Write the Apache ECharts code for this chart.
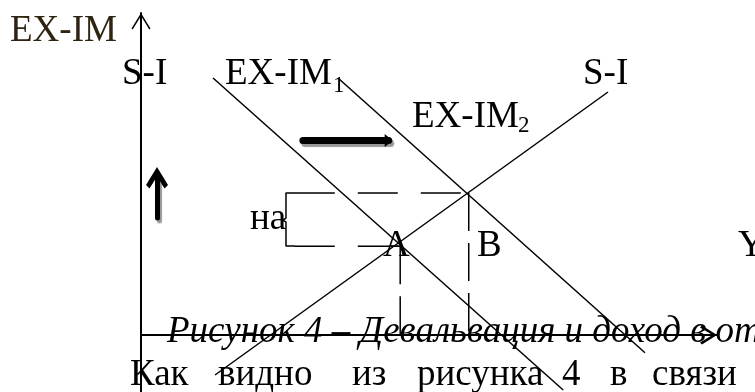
<!DOCTYPE html>
<html>
<head>
<meta charset="utf-8">
<script src="https://cdn.jsdelivr.net/npm/echarts@6.0.0/dist/echarts.min.js"></script>
<style>
  html, body { margin: 0; padding: 0; background: #ffffff; }
  #chart { width: 755px; height: 392px; }
</style>
</head>
<body>
<div id="chart"></div>
<script>
// ---- data (abstract diagram units: x 0..100 along Y-income axis, y 0..100 along EX-IM axis)
const lineSI    = [[12.85, -12.42], [81.08, 75.47]];
const lineEXIM1 = [[12.5, 79.81], [73.3, -17.08]];
const lineEXIM2 = [[34.2, 79.8], [87.5, -5.5]];
const dashUpperH = [[26.7, 44.1], [56.9, 44.1]];
const dashLowerH = [[26.7, 27.6], [45.0, 27.6]];
const dashA_V    = [[45.0, 27.6], [45.0, 0]];
const dashB_V    = [[56.9, 44.1], [56.9, 0]];
const bracket    = [[26.74, 44.1], [25.17, 44.1], [25.17, 36.33], [24.65, 35.71], [25.17, 35.09], [25.17, 27.64], [26.74, 27.64]];
const arrowRight = [[28.1, 60.4], [43.0, 60.4]];
const arrowUp    = [[2.78, 36.3], [2.78, 48.84]];

const labelTexts = ['EX-IM', 'S-I', 'EX-IM', '1', 'EX-IM', '2', 'S-I', 'на', 'A', 'B', 'Y'];
const captionText = 'Рисунок 4 – Девальвация и доход в открытой экономике';
const paragraphWords = ['Как', 'видно', 'из', 'рисунка', '4', 'в', 'связи'];

// ---- layout (pixels)
const FONT = "'Liberation Serif', 'Times New Roman', serif";
const labelPos = [
  {x: 10,  b: 42,  fs: 37, fill: '#2e2411'},
  {x: 122, b: 85,  fs: 37},
  {x: 225, b: 85,  fs: 37},
  {x: 333, b: 93,  fs: 23},
  {x: 412, b: 128, fs: 37},
  {x: 518, b: 133, fs: 23},
  {x: 583, b: 85,  fs: 37},
  {x: 250, b: 230, fs: 37},
  {x: 383, b: 257, fs: 37},
  {x: 477, b: 257, fs: 37},
  {x: 738, b: 257, fs: 37}
];
const wordX = [130, 218, 352, 417, 562, 610, 652];

function txt(text, x, baseline, fs, opts) {
  opts = opts || {};
  return {
    type: 'text', silent: true, z: 50,
    style: {
      text: text, x: x, y: baseline - 0.30 * fs,
      font: (opts.italic ? 'italic ' : '') + fs + 'px ' + FONT,
      fill: opts.fill || '#000000',
      verticalAlign: 'middle', align: 'left'
    }
  };
}

const graphics = [];
labelTexts.forEach((t, i) => {
  const p = labelPos[i];
  graphics.push(txt(t, p.x, p.b, p.fs, {fill: p.fill}));
});
graphics.push(txt(captionText, 167, 343, 37, {italic: true}));
paragraphWords.forEach((w, i) => graphics.push(txt(w, wordX[i], 386, 37)));

function seg(data, width, dash) {
  return {
    type: 'line', data: data, symbol: 'none', silent: true, animation: false,
    lineStyle: {color: '#000', width: width, type: dash || 'solid'},
    z: 5
  };
}

const axisArrowY = 'path://M0,0 L9.5,15.5 L8.3,16.6 L0,3 L-8.3,16.6 L-9.5,15.5 Z';
const axisArrowX = 'path://M0,0 L9.5,15 L7.6,17 L0,4.5 L-7.6,17 L-9.5,15 Z';
const thickHead  = 'path://M0,0 L6.5,8 L-6.5,8 Z';
const chevron    = 'path://M0,0 L11,18 L7.5,21.5 L0,9.5 L-7.5,21.5 L-11,18 Z';

function arrowSeries(data, width, head, headSize) {
  return {
    type: 'line', data: [], symbol: 'none', silent: true, animation: false,
    markLine: {
      silent: true, animation: false,
      symbol: ['none', head], symbolSize: headSize,
      label: {show: false},
      lineStyle: {
        color: '#000', width: width, type: 'solid', cap: 'round',
        shadowColor: 'rgba(0,0,0,0.4)', shadowBlur: 1, shadowOffsetX: 2, shadowOffsetY: 3
      },
      emphasis: {disabled: true},
      data: [[{coord: data[0]}, {coord: data[1]}]]
    }
  };
}

const chart = echarts.init(document.getElementById('chart'), null, {renderer: 'canvas'});
chart.setOption({
  backgroundColor: '#ffffff',
  animation: false,
  grid: {left: 141, right: 38, top: 13, bottom: 0, containLabel: false},
  xAxis: {
    type: 'value', min: 0, max: 100,
    axisLine: {show: true, onZero: true, lineStyle: {color: '#000', width: 2},
      symbol: ['none', axisArrowX], symbolSize: [19, 17], symbolOffset: [0, -8.5]},
    axisTick: {show: false}, axisLabel: {show: false}, splitLine: {show: false}
  },
  yAxis: {
    type: 'value', min: -17.7, max: 100,
    axisLine: {show: true, onZero: true, lineStyle: {color: '#000', width: 2},
      symbol: ['none', axisArrowY], symbolSize: [19, 16.6], symbolOffset: [0, -8.3]},
    axisTick: {show: false}, axisLabel: {show: false}, splitLine: {show: false}
  },
  series: [
    seg(lineSI, 1.5),
    seg(lineEXIM1, 1.5),
    seg(lineEXIM2, 1.5),
    seg(dashUpperH, 1.5, [40, 23]),
    seg(dashLowerH, 1.5, [40, 23]),
    seg(dashA_V, 1.5, [38, 12]),
    seg(dashB_V, 1.5, [38, 12]),
    seg(bracket, 1.5),
    arrowSeries(arrowRight, 7, thickHead, [13, 8]),
    arrowSeries(arrowUp, 5, chevron, [22, 21.5])
  ],
  graphic: graphics
});
</script>
</body>
</html>
